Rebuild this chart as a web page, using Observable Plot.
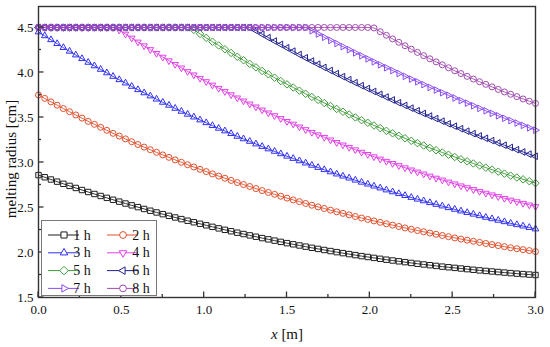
<!DOCTYPE html>
<html><head><meta charset="utf-8">
<script src="https://cdn.jsdelivr.net/npm/d3@7"></script>
<script src="https://cdn.jsdelivr.net/npm/@observablehq/plot@0.6"></script>
<style>
html,body{margin:0;padding:0;background:#fff;}
#chart{width:550px;height:347px;position:relative;}
#chart svg, #chart svg text, #chart svg tspan { font-family: "Liberation Serif", "Times New Roman", serif !important; }
</style></head><body><div id="chart"></div>
<script>
// x positions along the pipe [m]
const xs = [0, 0.0375, 0.075, 0.1125, 0.15, 0.1875, 0.225, 0.2625, 0.3, 0.3375,
  0.375, 0.4125, 0.45, 0.4875, 0.525, 0.5625, 0.6, 0.6375, 0.675, 0.7125,
  0.75, 0.7875, 0.825, 0.8625, 0.9, 0.9375, 0.975, 1.0125, 1.05, 1.0875,
  1.125, 1.1625, 1.2, 1.2375, 1.275, 1.3125, 1.35, 1.3875, 1.425, 1.4625,
  1.5, 1.5375, 1.575, 1.6125, 1.65, 1.6875, 1.725, 1.7625, 1.8, 1.8375,
  1.875, 1.9125, 1.95, 1.9875, 2.025, 2.0625, 2.1, 2.1375, 2.175, 2.2125,
  2.25, 2.2875, 2.325, 2.3625, 2.4, 2.4375, 2.475, 2.5125, 2.55, 2.5875,
  2.625, 2.6625, 2.7, 2.7375, 2.775, 2.8125, 2.85, 2.8875, 2.925, 2.9625, 3.0];

const labels = ["1 h", "2 h", "3 h", "4 h", "5 h", "6 h", "7 h", "8 h"];

const s1h = [2.860, 2.836, 2.811, 2.787, 2.763, 2.740, 2.717, 2.694, 2.672, 2.650,
  2.628, 2.607, 2.586, 2.565, 2.544, 2.524, 2.504, 2.484, 2.464, 2.445,
  2.426, 2.407, 2.389, 2.371, 2.353, 2.336, 2.319, 2.302, 2.285, 2.268,
  2.252, 2.236, 2.220, 2.205, 2.190, 2.175, 2.160, 2.146, 2.132, 2.118,
  2.104, 2.091, 2.078, 2.065, 2.052, 2.040, 2.028, 2.016, 2.004, 1.993,
  1.982, 1.971, 1.960, 1.950, 1.940, 1.930, 1.920, 1.911, 1.902, 1.893,
  1.884, 1.875, 1.867, 1.859, 1.851, 1.843, 1.836, 1.829, 1.822, 1.815,
  1.808, 1.801, 1.795, 1.789, 1.783, 1.777, 1.771, 1.765, 1.760, 1.755, 1.750];

const s2h = [3.750, 3.712, 3.674, 3.637, 3.599, 3.564, 3.528, 3.493, 3.457, 3.424,
  3.391, 3.357, 3.324, 3.293, 3.262, 3.231, 3.200, 3.171, 3.142, 3.113,
  3.084, 3.057, 3.029, 3.002, 2.975, 2.950, 2.924, 2.899, 2.873, 2.849,
  2.825, 2.801, 2.777, 2.755, 2.733, 2.710, 2.688, 2.667, 2.646, 2.625,
  2.604, 2.584, 2.565, 2.545, 2.525, 2.507, 2.489, 2.470, 2.452, 2.435,
  2.418, 2.400, 2.383, 2.367, 2.351, 2.335, 2.319, 2.304, 2.289, 2.273,
  2.258, 2.244, 2.230, 2.216, 2.202, 2.189, 2.176, 2.162, 2.149, 2.137,
  2.125, 2.112, 2.100, 2.088, 2.077, 2.065, 2.053, 2.042, 2.032, 2.021, 2.010];

const s3h = [4.450, 4.407, 4.363, 4.320, 4.276, 4.235, 4.194, 4.153, 4.112, 4.073,
  4.034, 3.995, 3.956, 3.919, 3.882, 3.845, 3.808, 3.773, 3.738, 3.703,
  3.668, 3.635, 3.601, 3.568, 3.535, 3.504, 3.472, 3.441, 3.409, 3.379,
  3.350, 3.320, 3.290, 3.262, 3.234, 3.205, 3.177, 3.150, 3.123, 3.096,
  3.069, 3.044, 3.018, 2.993, 2.968, 2.944, 2.919, 2.895, 2.871, 2.848,
  2.826, 2.803, 2.780, 2.759, 2.737, 2.716, 2.694, 2.673, 2.653, 2.632,
  2.611, 2.592, 2.573, 2.553, 2.534, 2.516, 2.497, 2.479, 2.460, 2.443,
  2.425, 2.408, 2.390, 2.374, 2.357, 2.341, 2.324, 2.308, 2.293, 2.277, 2.261];

const s4h = [4.5, 4.5, 4.5, 4.5, 4.5, 4.5, 4.5, 4.5, 4.5, 4.5,
  4.5, 4.5, 4.5, 4.472, 4.427, 4.383, 4.339, 4.297, 4.255, 4.213,
  4.171, 4.131, 4.091, 4.051, 4.011, 3.974, 3.936, 3.899, 3.861, 3.825,
  3.789, 3.754, 3.718, 3.685, 3.651, 3.618, 3.584, 3.552, 3.521, 3.489,
  3.457, 3.427, 3.396, 3.366, 3.336, 3.308, 3.280, 3.251, 3.223, 3.196,
  3.169, 3.142, 3.115, 3.090, 3.064, 3.039, 3.014, 2.990, 2.966, 2.942,
  2.918, 2.895, 2.873, 2.850, 2.827, 2.806, 2.784, 2.763, 2.741, 2.721,
  2.700, 2.680, 2.660, 2.641, 2.622, 2.602, 2.583, 2.565, 2.547, 2.529, 2.511];

const s5h = [4.5, 4.5, 4.5, 4.5, 4.5, 4.5, 4.5, 4.5, 4.5, 4.5,
  4.5, 4.5, 4.5, 4.5, 4.5, 4.5, 4.5, 4.5, 4.5, 4.5,
  4.5, 4.5, 4.5, 4.5, 4.5, 4.473, 4.429, 4.385, 4.342, 4.300,
  4.258, 4.217, 4.175, 4.136, 4.096, 4.057, 4.017, 3.980, 3.942, 3.905,
  3.868, 3.833, 3.798, 3.763, 3.728, 3.695, 3.661, 3.628, 3.595, 3.564,
  3.533, 3.501, 3.470, 3.441, 3.411, 3.382, 3.352, 3.324, 3.297, 3.269,
  3.241, 3.215, 3.189, 3.162, 3.136, 3.111, 3.086, 3.061, 3.036, 3.013,
  2.989, 2.966, 2.943, 2.921, 2.898, 2.876, 2.854, 2.833, 2.813, 2.792, 2.771];

const s6h = [4.5, 4.5, 4.5, 4.5, 4.5, 4.5, 4.5, 4.5, 4.5, 4.5,
  4.5, 4.5, 4.5, 4.5, 4.5, 4.5, 4.5, 4.5, 4.5, 4.5,
  4.5, 4.5, 4.5, 4.5, 4.5, 4.5, 4.5, 4.5, 4.5, 4.5,
  4.5, 4.5, 4.5, 4.5, 4.5, 4.466, 4.426, 4.387, 4.349, 4.312,
  4.274, 4.237, 4.199, 4.163, 4.127, 4.092, 4.056, 4.022, 3.988, 3.954,
  3.920, 3.887, 3.854, 3.822, 3.789, 3.758, 3.727, 3.695, 3.664, 3.634,
  3.604, 3.575, 3.545, 3.516, 3.488, 3.459, 3.430, 3.403, 3.375, 3.348,
  3.321, 3.295, 3.269, 3.243, 3.217, 3.192, 3.167, 3.142, 3.117, 3.093, 3.069];

const s7h = [4.5, 4.5, 4.5, 4.5, 4.5, 4.5, 4.5, 4.5, 4.5, 4.5,
  4.5, 4.5, 4.5, 4.5, 4.5, 4.5, 4.5, 4.5, 4.5, 4.5,
  4.5, 4.5, 4.5, 4.5, 4.5, 4.5, 4.5, 4.5, 4.5, 4.5,
  4.5, 4.5, 4.5, 4.5, 4.5, 4.5, 4.5, 4.5, 4.5, 4.5,
  4.5, 4.5, 4.5, 4.5, 4.463, 4.427, 4.391, 4.356, 4.322, 4.287,
  4.253, 4.218, 4.185, 4.151, 4.118, 4.085, 4.053, 4.021, 3.989, 3.957,
  3.926, 3.896, 3.865, 3.834, 3.805, 3.775, 3.746, 3.716, 3.687, 3.659,
  3.630, 3.601, 3.574, 3.546, 3.519, 3.491, 3.465, 3.438, 3.412, 3.385, 3.359];

const s8h = [4.5, 4.5, 4.5, 4.5, 4.5, 4.5, 4.5, 4.5, 4.5, 4.5,
  4.5, 4.5, 4.5, 4.5, 4.5, 4.5, 4.5, 4.5, 4.5, 4.5,
  4.5, 4.5, 4.5, 4.5, 4.5, 4.5, 4.5, 4.5, 4.5, 4.5,
  4.5, 4.5, 4.5, 4.5, 4.5, 4.5, 4.5, 4.5, 4.5, 4.5,
  4.5, 4.5, 4.5, 4.5, 4.5, 4.5, 4.5, 4.5, 4.5, 4.5,
  4.5, 4.5, 4.5, 4.5, 4.495, 4.453, 4.413, 4.373, 4.335, 4.297,
  4.259, 4.223, 4.187, 4.152, 4.118, 4.085, 4.052, 4.019, 3.988, 3.957,
  3.927, 3.897, 3.868, 3.840, 3.812, 3.784, 3.758, 3.732, 3.706, 3.681, 3.656];

const xTicks = [0, 0.5, 1, 1.5, 2, 2.5, 3];
const xMinor = [0.25, 0.75, 1.25, 1.75, 2.25, 2.75];
const yTicks = [1.5, 2, 2.5, 3, 3.5, 4, 4.5];
const yMinor = [1.75, 2.25, 2.75, 3.25, 3.75, 4.25];

const colors = ["#1e1e1e", "#e0502d", "#3030f0", "#e040e6", "#3f9a3a", "#222290", "#8a4cf2", "#a04cb0"];
const FONT = "'Liberation Serif', 'Times New Roman', serif";

// hollow marker shapes
function poly(pts) {
  return {draw(ctx, size) {
    const r = Math.sqrt(size / Math.PI);
    pts.forEach(([a, b], i) => i ? ctx.lineTo(a * r, b * r) : ctx.moveTo(a * r, b * r));
    ctx.closePath();
  }};
}
const symCircle = {draw(ctx, size) { const r = Math.sqrt(size / Math.PI); ctx.moveTo(r, 0); ctx.arc(0, 0, r, 0, 2 * Math.PI); }};
const symSquare = poly([[-0.9, -0.9], [0.9, -0.9], [0.9, 0.9], [-0.9, 0.9]]);
const symUp = poly([[0, -1.3], [1.1, 0.62], [-1.1, 0.62]]);
const symDown = poly([[0, 1.3], [1.1, -0.62], [-1.1, -0.62]]);
const symLeft = poly([[-1.3, 0], [0.62, -1.1], [0.62, 1.1]]);
const symRight = poly([[1.3, 0], [-0.62, -1.1], [-0.62, 1.1]]);
const symDiamond = poly([[0, -1.25], [1.25, 0], [0, 1.25], [-1.25, 0]]);
const shapes = [symSquare, symCircle, symUp, symDown, symDiamond, symLeft, symRight, symCircle];

const series = [s1h, s2h, s3h, s4h, s5h, s6h, s7h, s8h];

const marks = [];
series.forEach((vals, k) => {
  const data = xs.map((x, i) => ({x, y: vals[i]}));
  marks.push(Plot.line(data, {x: "x", y: "y", stroke: colors[k], strokeWidth: 0.9}));
  marks.push(Plot.dot(data, {x: "x", y: "y", stroke: colors[k], fill: "none", r: 3, strokeWidth: 1, symbol: shapes[k]}));
});
marks.push(Plot.frame({stroke: "#333", strokeWidth: 1.4}));

const plot = Plot.plot({
  width: 550, height: 347,
  marginTop: 6, marginBottom: 50, marginLeft: 38, marginRight: 15,
  style: {fontFamily: FONT, fontSize: "13px", background: "#fff", color: "#111"},
  x: {domain: [0, 3], ticks: xTicks, tickSize: 0, tickPadding: 7, tickFormat: d3.format(".1f"), label: null},
  y: {domain: [1.5, 4.733], ticks: yTicks, tickSize: 0, tickPadding: 5, tickFormat: d3.format(".1f"), label: null},
  marks
});
document.getElementById("chart").appendChild(plot);

const sx = plot.scale("x"), sy = plot.scale("y");
const svg = d3.select(plot);
svg.attr("font-family", FONT).style("font-family", FONT);
svg.selectAll("text").attr("font-family", FONT).style("font-family", FONT);
const tg = svg.append("g").attr("stroke", "#333").attr("stroke-width", 1.3);
const yb = sy.apply(1.5), xl = sx.apply(0);
xTicks.forEach(v => tg.append("line").attr("x1", sx.apply(v)).attr("x2", sx.apply(v)).attr("y1", yb).attr("y2", yb - 5.5));
xMinor.forEach(v => tg.append("line").attr("x1", sx.apply(v)).attr("x2", sx.apply(v)).attr("y1", yb).attr("y2", yb - 3));
yTicks.forEach(v => tg.append("line").attr("y1", sy.apply(v)).attr("y2", sy.apply(v)).attr("x1", xl).attr("x2", xl + 5.5));
yMinor.forEach(v => tg.append("line").attr("y1", sy.apply(v)).attr("y2", sy.apply(v)).attr("x1", xl).attr("x2", xl + 3));

// axis titles
svg.append("text").attr("transform", "translate(16,159) rotate(-90)").attr("text-anchor", "middle")
  .style("font-family", FONT).style("font-size", "15px").attr("fill", "#111").text("melting radius [cm]");
const xt = svg.append("text").attr("x", 287).attr("y", 339).attr("text-anchor", "middle")
  .style("font-family", FONT).style("font-size", "15px").attr("fill", "#111");
xt.append("tspan").style("font-style", "italic").text("x");
xt.append("tspan").text(" [m]");

// legend
const lg = svg.append("g");
lg.append("rect").attr("x", 41.5).attr("y", 220.5).attr("width", 115).attr("height", 75)
  .attr("fill", "#fff").attr("stroke", "#777").attr("stroke-width", 1);
labels.forEach((lab, k) => {
  const col = k % 2, row = Math.floor(k / 2);
  const x0 = col ? 107 : 48, yc = 235 + row * 17.8;
  lg.append("line").attr("x1", x0).attr("x2", x0 + 31).attr("y1", yc).attr("y2", yc)
    .attr("stroke", colors[k]).attr("stroke-width", 1);
  lg.append("path").attr("d", d3.symbol(shapes[k], Math.PI * 3.4 * 3.4)())
    .attr("transform", `translate(${x0 + 16},${yc})`).attr("fill", "#fff").attr("stroke", colors[k]);
  lg.append("text").attr("x", x0 + 34).attr("y", yc + 4.5).style("font-family", FONT)
    .style("font-size", "14px").attr("fill", "#111").text(lab);
});

if (series.some(s => s.length !== xs.length)) {
  svg.append("text").attr("x", 200).attr("y", 150).attr("fill", "red").text("LENGTH MISMATCH " + series.map(s => s.length).join(","));
}
</script></body></html>
